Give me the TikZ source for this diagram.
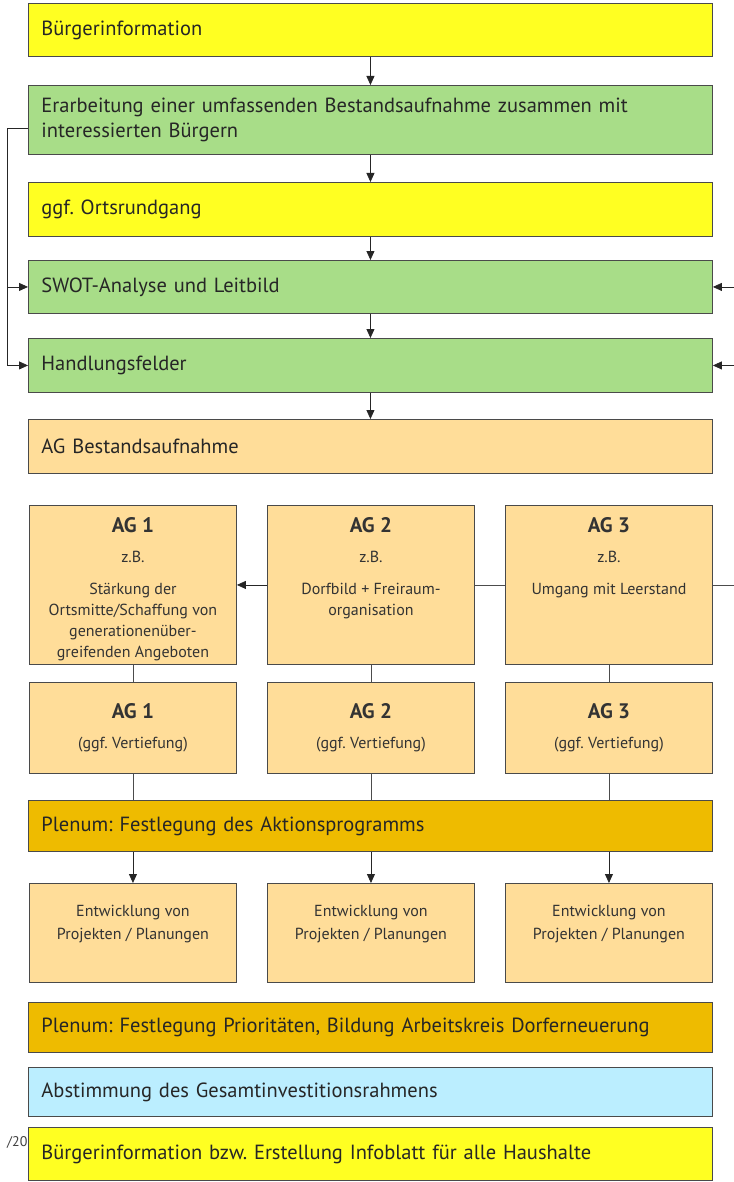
\documentclass[tikz,border=0pt]{standalone}
\usepackage{fontspec}
\setmainfont{PT Sans}
\usetikzlibrary{arrows.meta}

\definecolor{gelb}{HTML}{FFFF22}
\definecolor{gruen}{HTML}{A8DD88}
\definecolor{hellorange}{HTML}{FFDD99}
\definecolor{dunkelgelb}{HTML}{EEBB00}
\definecolor{hellblau}{HTML}{BBEEFF}
\definecolor{rand}{HTML}{4A4A4A}

\tikzset{
  widebox/.style={draw=rand, line width=0.9pt, anchor=north west, text width=658pt,
    inner xsep=13pt, inner ysep=0pt, align=left, font=\fontsize{20.5}{25}\selectfont, text=black!85},
  agbox/.style={draw=rand, line width=0.9pt, fill=hellorange, anchor=north west,
    minimum width=207pt, inner sep=0pt, align=center, font=\fontsize{16}{21}\selectfont, text=black!80},
  agtext/.style={anchor=north, align=center, font=\fontsize{16}{21}\selectfont, text=black!80, inner sep=0pt},
  pfeil/.style={-{Triangle[length=9pt,width=8pt]}, line width=0.8pt, draw=black!85},
  linie/.style={line width=0.8pt, draw=black!70},
}

\begin{document}
\frenchspacing
\begin{tikzpicture}[x=1pt,y=-1pt]
            \path[use as bounding box, fill=white] (0,0) rectangle (733,1182);

            % Side note, cut off by the last box
            \node[anchor=base west, inner sep=0pt, font=\fontsize{14}{16}\selectfont, text=black!75] (fuss) at (7,1146) {/201};

            % Top stage nodes
            \node[widebox, fill=gelb, minimum height=53pt] (b1) at (28,3) {Bürgerinformation};
            \node[widebox, fill=gruen, minimum height=69pt] (b2) at (28,85) {Erarbeitung einer umfassenden Bestandsaufnahme zusammen mit\\ interessierten Bürgern};
            \draw[pfeil] (b1) -- (b2);
            \node[widebox, fill=gelb, minimum height=54pt] (b3) at (28,182) {ggf. Ortsrundgang};
            \draw[pfeil] (b2) -- (b3);
            \node[widebox, fill=gruen, minimum height=53pt] (b4) at (28,260) {SWOT-Analyse und Leitbild};
            \draw[pfeil] (b3) -- (b4);
            \node[widebox, fill=gruen, minimum height=54pt] (b5) at (28,338) {Handlungsfelder};
            \draw[pfeil] (b4) -- (b5);
            \node[widebox, fill=hellorange, minimum height=54pt] (b6) at (28,419) {AG Bestandsaufnahme};
            \draw[pfeil] (b5) -- (b6);

            % Loop on the left
            \draw[pfeil] ([yshift=-8pt]b2.west) -- ++(-21,0) |- (b5.west);
            \draw[pfeil] ([xshift=-21pt]b4.west) -- (b4.west);

            % Working groups
            \node[agbox, minimum height=159pt] (ag1) at (29,505) {};
            \node[agtext] (ag1t) at ([yshift=-12pt]ag1.north) {\textbf{\fontsize{21}{22}\selectfont AG 1}\\[9pt] z.B.\\[11pt] Stärkung der\\ Ortsmitte/Schaffung von\\ generationenüber-\\ greifenden Angeboten};
            \node[agbox, minimum height=159pt] (ag2) at (267,505) {};
            \node[agtext] (ag2t) at ([yshift=-12pt]ag2.north) {\textbf{\fontsize{21}{22}\selectfont AG 2}\\[9pt] z.B.\\[11pt] Dorfbild + Freiraum-\\ organisation};
            \node[agbox, minimum height=159pt] (ag3) at (505,505) {};
            \node[agtext] (ag3t) at ([yshift=-12pt]ag3.north) {\textbf{\fontsize{21}{22}\selectfont AG 3}\\[9pt] z.B.\\[11pt] Umgang mit Leerstand};
            \draw[pfeil] (ag2) -- (ag1);
            \draw[linie] (ag3) -- (ag2);

            % Loop on the right, leaving the page
            \coordinate (r4) at ([xshift=40pt]b4.east);
            \coordinate (r5) at ([xshift=40pt]b5.east);
            \draw[linie] (ag3.east) -| (r5) -- (r4);
            \draw[pfeil] (r4) -- (b4.east);
            \draw[pfeil] (r5) -- (b5.east);

            % Deeper working groups
            \node[agbox, minimum height=91pt] (ag1b) at (29,682) {\textbf{\fontsize{21}{22}\selectfont AG 1}\\[9pt] (ggf. Vertiefung)};
            \node[agbox, minimum height=91pt] (ag2b) at (267,682) {\textbf{\fontsize{21}{22}\selectfont AG 2}\\[9pt] (ggf. Vertiefung)};
            \node[agbox, minimum height=91pt] (ag3b) at (505,682) {\textbf{\fontsize{21}{22}\selectfont AG 3}\\[9pt] (ggf. Vertiefung)};
            \draw[linie] (ag1) -- (ag1b);
            \draw[linie] (ag2) -- (ag2b);
            \draw[linie] (ag3) -- (ag3b);

            % Plenum
            \node[widebox, fill=dunkelgelb, minimum height=51pt] (pl1) at (28,800) {Plenum: Festlegung des Aktionsprogramms};
            \draw[linie] (ag1b) -- (ag1b |- pl1.north);
            \draw[linie] (ag2b) -- (ag2b |- pl1.north);
            \draw[linie] (ag3b) -- (ag3b |- pl1.north);

            % Projects
            \node[agbox, minimum height=99pt] (en1) at (29,883) {};
            \node[agtext] (en1t) at ([yshift=-22pt]en1.north) {Entwicklung von\\[2pt] Projekten / Planungen};
            \node[agbox, minimum height=99pt] (en2) at (267,883) {};
            \node[agtext] (en2t) at ([yshift=-22pt]en2.north) {Entwicklung von\\[2pt] Projekten / Planungen};
            \node[agbox, minimum height=99pt] (en3) at (505,883) {};
            \node[agtext] (en3t) at ([yshift=-22pt]en3.north) {Entwicklung von\\[2pt] Projekten / Planungen};
            \draw[pfeil] (en1 |- pl1.south) -- (en1);
            \draw[pfeil] (en2 |- pl1.south) -- (en2);
            \draw[pfeil] (en3 |- pl1.south) -- (en3);

            % Bottom stage nodes
            \node[widebox, fill=dunkelgelb, minimum height=50pt] (pl2) at (28,1002) {Plenum: Festlegung Prioritäten, Bildung Arbeitskreis Dorferneuerung};
            \node[widebox, fill=hellblau, minimum height=49pt] (ab) at (28,1067) {Abstimmung des Gesamtinvestitionsrahmens};
            \node[widebox, fill=gelb, minimum height=53pt] (b7) at (28,1127) {Bürgerinformation bzw. Erstellung Infoblatt für alle Haushalte};
\end{tikzpicture}
\end{document}
